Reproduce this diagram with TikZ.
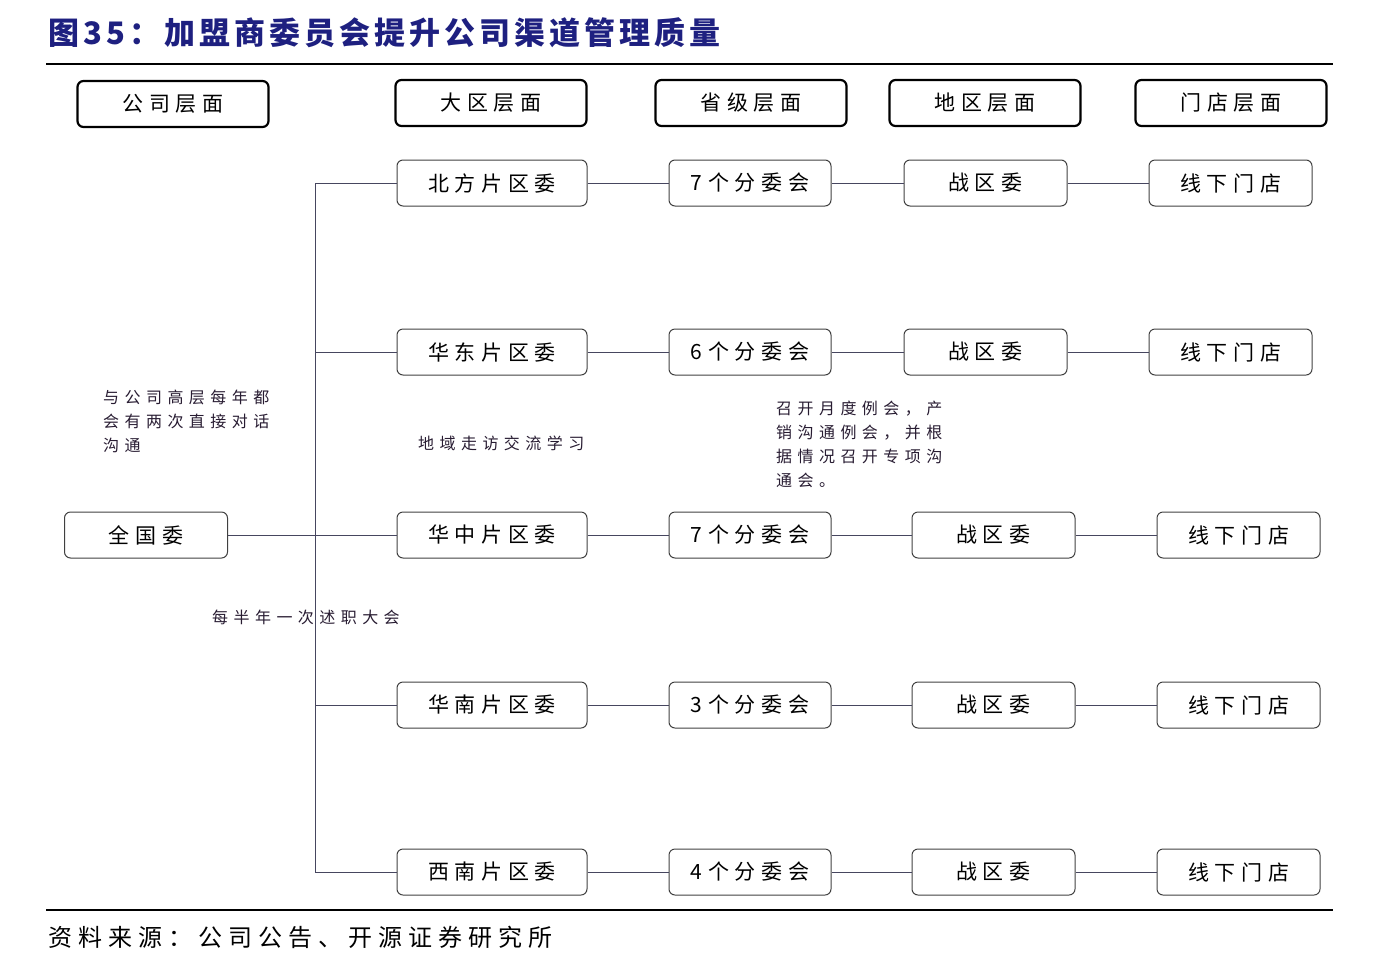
\documentclass[tikz,border=0pt]{standalone}
\usepackage{fontspec}
\usepackage{tikz}
\setmainfont{Noto Sans CJK SC}
\newfontfamily\cjkwide[LetterSpace=27]{Noto Sans CJK SC}
\newfontfamily\cjknote[LetterSpace=34]{Noto Sans CJK SC}
\newfontfamily\cjktitle[LetterSpace=13]{Noto Sans CJK SC}
\newfontfamily\cjksource[LetterSpace=25]{Noto Sans CJK SC}
\definecolor{titleblue}{RGB}{30,32,128}
\definecolor{linegray}{RGB}{70,70,95}
\definecolor{notecolor}{RGB}{40,28,50}

\tikzset{
	levelbox/.style={draw, rounded corners=6pt, line width=2.2pt, minimum width=191pt, minimum height=46pt, inner sep=0pt, font=\fontsize{21}{21}\cjkwide},
	unitbox/.style={draw=black!75, rounded corners=6pt, line width=1pt, minimum height=46pt, inner sep=0pt, font=\fontsize{21}{21}\cjkwide},
	note/.style={align=left, anchor=north west, inner sep=0pt, text=notecolor, font=\fontsize{16}{24}\cjknote},
}

\begin{document}
\begin{tikzpicture}[x=1pt,y=-1pt]
		\useasboundingbox (0,0) rectangle (1382,978);
		
		\node[anchor=west, inner sep=0pt, text=titleblue, font=\fontsize{31}{31}\cjktitle\bfseries] (title) at (48,33) {图35：加盟商委员会提升公司渠道管理质量};
		\coordinate (rule-a) at (46,64);
		\coordinate (rule-b) at (1333,64);
		\draw[line width=1.5pt] (rule-a) -- (rule-b);
		
		% headers
		\node[levelbox] (h-1) at (173,104) {公司层面};
		\node[levelbox] (h-2) at (491,103) {大区层面};
		\node[levelbox] (h-3) at (751,103) {省级层面};
		\node[levelbox] (h-4) at (985,103) {地区层面};
		\node[levelbox] (h-5) at (1231,103) {门店层面};
		
		% rows
		\node[unitbox, minimum width=163pt] (hq) at (146,535) {全国委};
		
		\node[unitbox, minimum width=190pt] (r-1-1) at (492,183) {北方片区委};
		\node[unitbox, minimum width=162pt] (r-1-2) at (750,183) {7个分委会};
		\node[unitbox, minimum width=163pt] (r-1-3) at (985.5,183) {战区委};
		\node[unitbox, minimum width=163pt] (r-1-4) at (1230.5,183) {线下门店};
		
		\node[unitbox, minimum width=190pt] (r-2-1) at (492,352) {华东片区委};
		\node[unitbox, minimum width=162pt] (r-2-2) at (750,352) {6个分委会};
		\node[unitbox, minimum width=163pt] (r-2-3) at (985.5,352) {战区委};
		\node[unitbox, minimum width=163pt] (r-2-4) at (1230.5,352) {线下门店};
		
		\node[unitbox, minimum width=190pt] (r-3-1) at (492,535) {华中片区委};
		\node[unitbox, minimum width=162pt] (r-3-2) at (750,535) {7个分委会};
		\node[unitbox, minimum width=163pt] (r-3-3) at (993.5,535) {战区委};
		\node[unitbox, minimum width=163pt] (r-3-4) at (1238.5,535) {线下门店};
		
		\node[unitbox, minimum width=190pt] (r-4-1) at (492,705) {华南片区委};
		\node[unitbox, minimum width=162pt] (r-4-2) at (750,705) {3个分委会};
		\node[unitbox, minimum width=163pt] (r-4-3) at (993.5,705) {战区委};
		\node[unitbox, minimum width=163pt] (r-4-4) at (1238.5,705) {线下门店};
		
		\node[unitbox, minimum width=190pt] (r-5-1) at (492,872) {西南片区委};
		\node[unitbox, minimum width=162pt] (r-5-2) at (750,872) {4个分委会};
		\node[unitbox, minimum width=163pt] (r-5-3) at (993.5,872) {战区委};
		\node[unitbox, minimum width=163pt] (r-5-4) at (1238.5,872) {线下门店};
		
		% trunk
		\coordinate (t-1) at (315,183);
		\coordinate (t-2) at (315,352);
		\coordinate (t-4) at (315,705);
		\coordinate (t-5) at (315,872);
		
		\draw[linegray, line width=1pt]
		(t-1)edge(t-5)
		(t-1)edge(r-1-1)
		(t-2)edge(r-2-1)
		(hq)edge(r-3-1)
		(t-4)edge(r-4-1)
		(t-5)edge(r-5-1)
		(r-1-1)edge(r-1-2)
		(r-1-2)edge(r-1-3)
		(r-1-3)edge(r-1-4)
		(r-2-1)edge(r-2-2)
		(r-2-2)edge(r-2-3)
		(r-2-3)edge(r-2-4)
		(r-3-1)edge(r-3-2)
		(r-3-2)edge(r-3-3)
		(r-3-3)edge(r-3-4)
		(r-4-1)edge(r-4-2)
		(r-4-2)edge(r-4-3)
		(r-4-3)edge(r-4-4)
		(r-5-1)edge(r-5-2)
		(r-5-2)edge(r-5-3)
		(r-5-3)edge(r-5-4);
		
		% notes
		\node[note] (note-hq) at (103,390) {与公司高层每年都\\会有两次直接对话\\沟通};
		\node[note] (note-area) at (418,436) {地域走访交流学习};
		\node[note] (note-prov) at (776,401) {召开月度例会，产\\销沟通例会，并根\\据情况召开专项沟\\通会。};
		\node[note] (note-half) at (212,610) {每半年一次述职大会};
		
		% source
		\coordinate (rule-c) at (46,910);
		\coordinate (rule-d) at (1333,910);
		\draw[line width=1.2pt] (rule-c) -- (rule-d);
		\node[anchor=west, inner sep=0pt, font=\fontsize{24}{24}\cjksource] (source) at (48,937) {资料来源：公司公告、开源证券研究所};
		\end{tikzpicture}
\end{document}
